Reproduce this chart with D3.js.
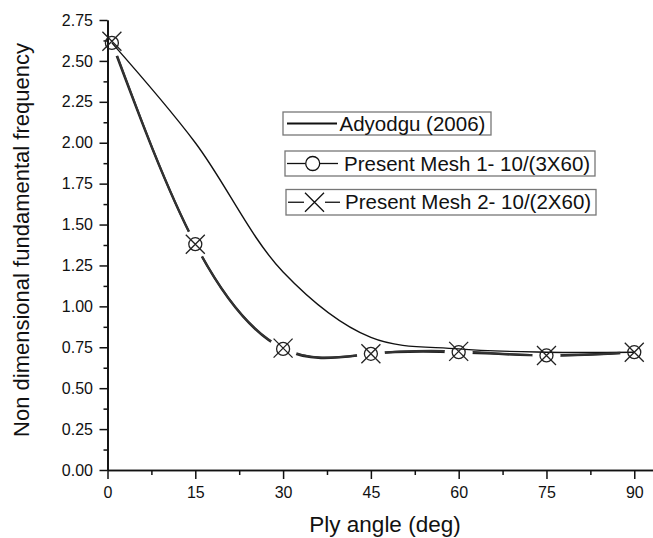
<!DOCTYPE html>
<html>
<head>
<meta charset="utf-8">
<script src="https://cdn.jsdelivr.net/npm/d3@7/dist/d3.min.js"></script>
<style>
  html, body { margin: 0; padding: 0; background: #fff; }
  svg { display: block; }
  text { font-family: "Liberation Sans", Arial, sans-serif; fill: #111; }
</style>
</head>
<body>
<svg id="chart" width="653" height="538"></svg>
<script>
// ---- data ----
const angles   = [0.75, 15, 30, 45, 60, 75, 90];
const adyodgu  = [2.61, 2.0, 1.21, 0.81, 0.74, 0.72, 0.72];
const mesh1    = [2.61, 1.38, 0.74, 0.71, 0.72, 0.70, 0.72];
const mesh2    = [2.62, 1.38, 0.745, 0.71, 0.725, 0.70, 0.72];
const xTickValues = [0, 15, 30, 45, 60, 75, 90];
const xMinorTicks = [7.5, 22.5, 37.5, 52.5, 67.5, 82.5];
const yTickValues = [0, 0.25, 0.5, 0.75, 1.0, 1.25, 1.5, 1.75, 2.0, 2.25, 2.5, 2.75];
const yMinorTicks = [0.125, 0.375, 0.625, 0.875, 1.125, 1.375, 1.625, 1.875, 2.125, 2.375, 2.625];
const seriesNames = ["Adyodgu (2006)", "Present Mesh 1- 10/(3X60)", "Present Mesh 2- 10/(2X60)"];
const xTitle = "Ply angle (deg)";
const yTitle = "Non dimensional fundamental frequency";

// ---- layout ----
const svg = d3.select("#chart");
const x = d3.scaleLinear().domain([0, 93.2]).range([107.5, 653]);
const y = d3.scaleLinear().domain([0, 2.75]).range([470, 20]);
const ink = "#111";

// axes
const yAxis = d3.axisLeft(y).tickValues(yTickValues).tickFormat(d3.format(".2f"))
  .tickSize(8).tickSizeOuter(0).tickPadding(6.5);
const yMinor = d3.axisLeft(y).tickValues(yMinorTicks).tickFormat("").tickSize(4).tickSizeOuter(0);
const xAxis = d3.axisBottom(x).tickValues(xTickValues).tickFormat(d3.format("d"))
  .tickSize(9).tickSizeOuter(0).tickPadding(7.5);
const xMinor = d3.axisBottom(x).tickValues(xMinorTicks).tickFormat("").tickSize(5).tickSizeOuter(0);

function styleAxis(g) {
  g.selectAll("path.domain").attr("stroke", ink).attr("stroke-width", 1.7);
  g.selectAll(".tick line").attr("stroke", ink).attr("stroke-width", 1.5);
  g.selectAll(".tick text").attr("font-size", 16).attr("fill", ink)
    .attr("font-family", "'Liberation Sans', Arial, sans-serif");
}
svg.append("g").attr("transform", `translate(${x(0)},0)`).call(yMinor).call(styleAxis);
svg.append("g").attr("transform", `translate(${x(0)},0)`).call(yAxis).call(styleAxis);
svg.append("g").attr("transform", `translate(0,${y(0)})`).call(xMinor).call(styleAxis);
svg.append("g").attr("transform", `translate(0,${y(0)})`).call(xAxis).call(styleAxis);

// titles
svg.append("text").attr("x", 385).attr("y", 532).attr("text-anchor", "middle")
  .attr("font-size", 22.5).text(xTitle);
svg.append("text").attr("transform", "translate(28.5,240) rotate(-90)")
  .attr("text-anchor", "middle").attr("font-size", 22).text(yTitle);

// gap mask around symbols for the mesh lines
const defs = svg.append("defs");
const mask = defs.append("mask").attr("id", "gapmask").attr("maskUnits", "userSpaceOnUse")
  .attr("x", 0).attr("y", 0).attr("width", 653).attr("height", 538);
mask.append("rect").attr("width", 653).attr("height", 538).attr("fill", "#fff");
mask.selectAll("circle").data(angles.map((a, i) => [a, mesh1[i]])).join("circle")
  .attr("cx", d => x(d[0])).attr("cy", d => y(d[1])).attr("r", 14).attr("fill", "#000");

// lines
const pts = vals => angles.map((a, i) => [a, vals[i]]);
const lineSmooth = d3.line().x(d => x(d[0])).y(d => y(d[1])).curve(d3.curveCatmullRom.alpha(0.5));
const lineNat  = d3.line().x(d => x(d[0])).y(d => y(d[1])).curve(d3.curveNatural);

svg.append("path").attr("d", lineSmooth(pts(adyodgu))).attr("fill", "none")
  .attr("stroke", ink).attr("stroke-width", 1.4);

const meshG = svg.append("g").attr("mask", "url(#gapmask)");
meshG.append("path").attr("d", lineNat(pts(mesh1))).attr("fill", "none")
  .attr("stroke", "#222").attr("stroke-width", 2.4);
meshG.append("path").attr("d", lineNat(pts(mesh2))).attr("fill", "none")
  .attr("stroke", "#333").attr("stroke-width", 2.0);

// symbols
const xPath = s => `M${-s},${-s}L${s},${s}M${-s},${s}L${s},${-s}`;
svg.append("g").selectAll("circle").data(pts(mesh1)).join("circle")
  .attr("cx", d => x(d[0])).attr("cy", d => y(d[1])).attr("r", 6.5)
  .attr("fill", "none").attr("stroke", "#222").attr("stroke-width", 1.3);
svg.append("g").selectAll("path").data(pts(mesh2)).join("path")
  .attr("transform", d => `translate(${x(d[0])},${y(d[1])})`).attr("d", xPath(9.5))
  .attr("fill", "none").attr("stroke", "#222").attr("stroke-width", 1.3);

// legend
const boxes = [
  {x0: 283, y0: 112, x1: 491, y1: 135, tx: 339.5, ty: 130.5},
  {x0: 285, y0: 151, x1: 595, y1: 176, tx: 344, ty: 170.5},
  {x0: 286, y0: 189.5, x1: 596, y1: 215, tx: 345, ty: 209}
];
const lg = svg.append("g");
boxes.forEach((b, i) => {
  lg.append("rect").attr("x", b.x0).attr("y", b.y0).attr("width", b.x1 - b.x0).attr("height", b.y1 - b.y0)
    .attr("fill", "#fff").attr("stroke", "#777").attr("stroke-width", 1.3);
  lg.append("text").attr("x", b.tx).attr("y", b.ty).attr("font-size", 20.5).text(seriesNames[i]);
});
// legend samples
const cy0 = (boxes[0].y0 + boxes[0].y1) / 2;
lg.append("line").attr("x1", 287).attr("x2", 337).attr("y1", cy0).attr("y2", cy0)
  .attr("stroke", ink).attr("stroke-width", 2);
const cy1 = (boxes[1].y0 + boxes[1].y1) / 2;
lg.append("line").attr("x1", 287).attr("x2", 305).attr("y1", cy1).attr("y2", cy1).attr("stroke", ink).attr("stroke-width", 1.3);
lg.append("line").attr("x1", 320).attr("x2", 338).attr("y1", cy1).attr("y2", cy1).attr("stroke", ink).attr("stroke-width", 1.3);
lg.append("circle").attr("cx", 312.7).attr("cy", cy1).attr("r", 7).attr("fill", "none").attr("stroke", ink).attr("stroke-width", 1.3);
const cy2 = (boxes[2].y0 + boxes[2].y1) / 2;
lg.append("line").attr("x1", 288).attr("x2", 304).attr("y1", cy2).attr("y2", cy2).attr("stroke", ink).attr("stroke-width", 1.3);
lg.append("line").attr("x1", 325).attr("x2", 340).attr("y1", cy2).attr("y2", cy2).attr("stroke", ink).attr("stroke-width", 1.3);
lg.append("path").attr("transform", `translate(314.5,${cy2})`).attr("d", xPath(9.5))
  .attr("fill", "none").attr("stroke", ink).attr("stroke-width", 1.3);
</script>
</body>
</html>
